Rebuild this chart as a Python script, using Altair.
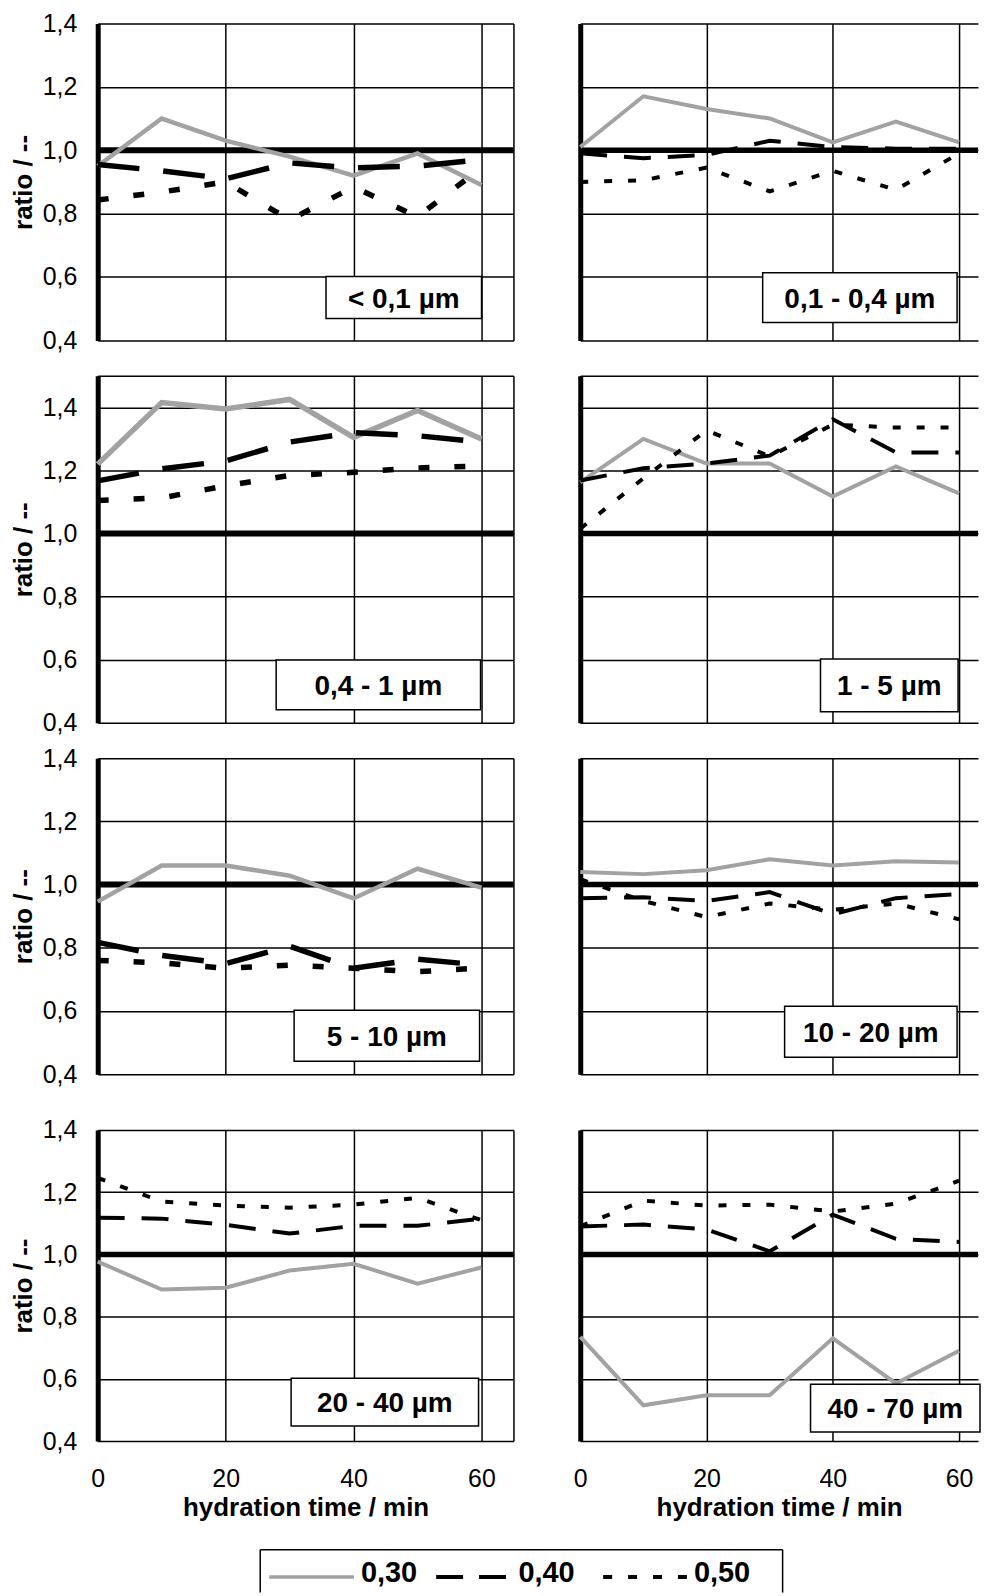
import altair as alt
import pandas as pd

# ---------------- data ----------------
times = [0, 10, 20, 30, 40, 50, 60]
series_names = ["0,30", "0,40", "0,50"]
panel_names = ["< 0,1 µm", "0,1 - 0,4 µm", "0,4 - 1 µm", "1 - 5 µm",
               "5 - 10 µm", "10 - 20 µm", "20 - 40 µm", "40 - 70 µm"]
reference_level = [1.0]

ratio_030 = [
    [0.95, 1.10, 1.03, 0.98, 0.92, 0.99, 0.89],
    [1.01, 1.17, 1.13, 1.10, 1.025, 1.09, 1.025],
    [1.22, 1.415, 1.395, 1.425, 1.305, 1.39, 1.30],
    [1.162, 1.30, 1.222, 1.222, 1.117, 1.213, 1.127],
    [0.946, 1.06, 1.06, 1.028, 0.956, 1.05, 0.99],
    [1.04, 1.033, 1.045, 1.08, 1.06, 1.074, 1.07],
    [0.977, 0.887, 0.893, 0.948, 0.97, 0.906, 0.958],
    [0.735, 0.515, 0.547, 0.547, 0.73, 0.585, 0.69],
]
ratio_040 = [
    [0.955, 0.935, 0.91, 0.96, 0.944, 0.95, 0.97],
    [0.99, 0.975, 0.985, 1.03, 1.01, 1.005, 1.005],
    [1.167, 1.205, 1.23, 1.29, 1.32, 1.31, 1.29],
    [1.168, 1.207, 1.222, 1.247, 1.362, 1.257, 1.257],
    [0.817, 0.776, 0.75, 0.805, 0.735, 0.764, 0.745],
    [0.957, 0.96, 0.948, 0.976, 0.906, 0.957, 0.97],
    [1.118, 1.115, 1.095, 1.067, 1.092, 1.092, 1.115],
    [1.09, 1.096, 1.08, 1.01, 1.128, 1.05, 1.04],
]
ratio_050 = [
    [0.843, 0.868, 0.90, 0.78, 0.884, 0.79, 0.945],
    [0.90, 0.905, 0.945, 0.87, 0.935, 0.875, 0.99],
    [1.105, 1.113, 1.151, 1.184, 1.194, 1.208, 1.214],
    [1.015, 1.175, 1.327, 1.245, 1.345, 1.336, 1.336],
    [0.76, 0.752, 0.735, 0.745, 0.735, 0.724, 0.736],
    [1.017, 0.948, 0.897, 0.94, 0.92, 0.94, 0.89],
    [1.246, 1.17, 1.157, 1.15, 1.16, 1.182, 1.11],
    [1.09, 1.173, 1.157, 1.16, 1.138, 1.163, 1.237],
]

rows = []
for p, pname in enumerate(panel_names):
    for sname, arr in zip(series_names, [ratio_030, ratio_040, ratio_050]):
        for t, v in zip(times, arr[p]):
            rows.append({"panel": pname, "series": sname, "time": t, "value": v})
df = pd.DataFrame(rows)
ref_df = pd.DataFrame({"level": reference_level})
leg_df = pd.DataFrame({"series": series_names})

# ---------------- style / layout ----------------
FONT = "Liberation Sans"
GRAY = "#a2a2a2"
ROW_H = [318, 348, 317, 312]
COL_W = [417, 399]
COL_XMAX = [65, 63.0]
COL_XGRID = [[0, 20, 40, 60, 65], [0, 20, 40, 60]]
BIG = dict(gw=4.5, dw=5.5, dash=[42, 24], sw=5.5, dot=[11, 25], rw=6)
SMALL = dict(gw=4, dw=4, dash=[27, 17], sw=4, dot=[8, 16], rw=5.5)
panel_style = [BIG, SMALL, dict(BIG, gw=5.5), SMALL, BIG, SMALL, SMALL, SMALL]
# label boxes in pixels relative to each panel's plot area: x1, x2, y1, y2
label_boxes = [
    (229, 385, 254, 296), (183, 378, 250, 300),
    (179, 384, 285, 335), (241, 379, 284, 337),
    (197, 383, 253, 304), (205, 378, 249, 300),
    (194, 382, 249, 297), (231, 401, 255, 303),
]

YLABEL = "datum.value > 1.45 ? '' : replace(format(datum.value, '.1f'), '.', ',')"


def panel(i):
    col, row = i % 2, i // 2
    pname = panel_names[i]
    st = panel_style[i]
    ymax = 1.5 if row == 1 else 1.4
    yvals = [0.4, 0.6, 0.8, 1.0, 1.2, 1.4] + ([1.5] if row == 1 else [])
    bottom = row == 3
    xs = alt.Scale(domain=[0, COL_XMAX[col]], nice=False, zero=False)
    ys = alt.Scale(domain=[0.4, ymax], nice=False, zero=False)
    if bottom:
        xaxis = alt.Axis(values=COL_XGRID[col], grid=True, domain=False,
                         ticks=False, tickSize=0, labels=True, labelFlush=False,
                         labelPadding=26,
                         labelExpr="datum.value > 60 ? '' : datum.label",
                         title="hydration time / min", titlePadding=3)
    else:
        xaxis = alt.Axis(values=COL_XGRID[col], grid=True, domain=False,
                         ticks=False, tickSize=0, labels=False, title=None)
    if col == 0:
        yaxis = alt.Axis(values=yvals, grid=True, domain=True, domainWidth=5,
                         domainColor="black", ticks=False, tickSize=0,
                         labelExpr=YLABEL, labelPadding=21,
                         title="ratio / --", titlePadding=6)
    else:
        yaxis = alt.Axis(values=yvals, grid=True, domain=True, domainWidth=5,
                         domainColor="black", ticks=False, tickSize=0,
                         labels=False, title=None)
    X = alt.X("time:Q", scale=xs, axis=xaxis)
    Y = alt.Y("value:Q", scale=ys, axis=yaxis)
    sub = df[df.panel == pname]

    ref = alt.Chart(ref_df).mark_rule(color="black", strokeWidth=st["rw"]).encode(
        y=alt.Y("level:Q", scale=ys, axis=yaxis))
    g = alt.Chart(sub).transform_filter(alt.datum.series == "0,30").mark_line(
        color=GRAY, strokeWidth=st["gw"]).encode(x=X, y=Y)
    d = alt.Chart(sub).transform_filter(alt.datum.series == "0,40").mark_line(
        color="black", strokeWidth=st["dw"], strokeDash=st["dash"]).encode(x=X, y=Y)
    s = alt.Chart(sub).transform_filter(alt.datum.series == "0,50").mark_line(
        color="black", strokeWidth=st["sw"], strokeDash=st["dot"]).encode(x=X, y=Y)
    bx = label_boxes[i]
    box = alt.Chart(ref_df).mark_rect(fill="white", stroke="black", strokeWidth=1.5).encode(
        x=alt.value(bx[0]), x2=alt.value(bx[1]), y=alt.value(bx[2]), y2=alt.value(bx[3]))
    txt = alt.Chart(ref_df).mark_text(font=FONT, fontSize=28, fontWeight="bold",
                                      color="black", align="center",
                                      baseline="middle").encode(
        x=alt.value((bx[0] + bx[1]) / 2), y=alt.value((bx[2] + bx[3]) / 2 + 2),
        text=alt.value(pname))
    return alt.layer(ref, g, d, s, box, txt).properties(
        width=COL_W[col], height=ROW_H[row])


panels = [panel(i) for i in range(8)]

top = alt.concat(*panels[0:6], columns=2, spacing={"row": 35.5, "column": 67},
                 bounds="flush")
bottom = alt.concat(*panels[6:8], columns=2, spacing={"row": 0, "column": 67},
                    bounds="flush")
grid = alt.vconcat(top, bottom, spacing=29)

# ---------------- legend ----------------
LEG_W, LEG_H = 524, 43
leg_scale = alt.Scale(type="point", domain=series_names, range=[9, 344], padding=0)
leg_styles = [
    dict(color=GRAY, width=3.5, dash=[1, 0], length=85, dx=92),
    dict(color="black", width=4, dash=[27, 16], length=70, dx=82.5),
    dict(color="black", width=4, dash=[9, 16], length=84, dx=91),
]
frame = [
    alt.Chart(ref_df).mark_rule(color="black", strokeWidth=1.5).encode(
        x=alt.value(0), x2=alt.value(LEG_W), y=alt.value(0)),
    alt.Chart(ref_df).mark_rule(color="black", strokeWidth=1.5).encode(
        x=alt.value(0), y=alt.value(0), y2=alt.value(LEG_H)),
    alt.Chart(ref_df).mark_rule(color="black", strokeWidth=1.5).encode(
        x=alt.value(LEG_W), y=alt.value(0), y2=alt.value(LEG_H)),
]
leg_layers = list(frame)
for sname, ls in zip(series_names, leg_styles):
    base = alt.Chart(leg_df).transform_filter(alt.datum.series == sname)
    leg_layers.append(base.mark_rule(color=ls["color"], strokeWidth=ls["width"],
                                     strokeDash=ls["dash"], x2Offset=ls["length"]).encode(
        x=alt.X("series:N", scale=leg_scale, axis=None),
        x2=alt.X2("series"), y=alt.value(27.5)))
    leg_layers.append(base.mark_text(font=FONT, fontSize=29, fontWeight="bold",
                                     color="black", align="left", baseline="alphabetic",
                                     dx=ls["dx"]).encode(
        x=alt.X("series:N", scale=leg_scale, axis=None),
        y=alt.value(32), text="series:N"))
legend = alt.layer(*leg_layers).properties(width=LEG_W, height=LEG_H)
spacer = alt.Chart(ref_df).mark_point(opacity=0).properties(width=161, height=LEG_H)
legend_row = alt.hconcat(spacer, legend, spacing=0)

chart = alt.vconcat(grid, legend_row, spacing=26).properties(
    padding={"left": 1, "top": 0, "right": 0, "bottom": 0}
).configure(font=FONT).configure_view(stroke="transparent").configure_axis(
    labelFont=FONT, labelFontSize=25, labelColor="black",
    titleFont=FONT, titleFontSize=26, titleFontWeight="bold", titleColor="black",
    gridColor="black", gridWidth=1.5, gridOpacity=1)

chart.save("out.html", embed_options={"renderer": "svg", "actions": False})
